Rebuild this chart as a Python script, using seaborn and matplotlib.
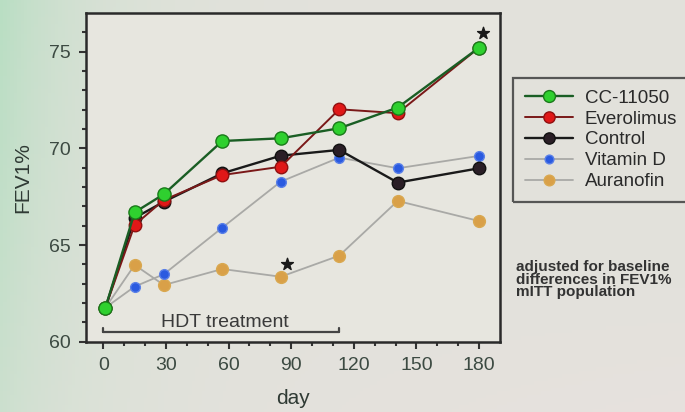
import numpy as np
import pandas as pd
import matplotlib
matplotlib.use("Agg")
import matplotlib.pyplot as plt
import seaborn as sns
from matplotlib.lines import Line2D

sns.set_theme(style="ticks")
plt.rcParams['font.family'] = ['Liberation Sans', 'DejaVu Sans']

days = [1, 15, 29, 57, 85, 113, 141, 180]
series_names = ["CC-11050", "Everolimus", "Control", "Vitamin D", "Auranofin"]
cc11050 = [61.76, 66.69, 67.63, 70.38, 70.52, 71.04, 72.11, 75.21]
everolimus = [61.76, 66.04, 67.33, 68.62, 69.05, 72.02, 71.82, 75.21]
control = [61.76, 66.40, 67.24, 68.71, 69.62, 69.92, 68.23, 68.97]
vitamin_d = [61.76, 62.85, 63.49, 65.90, 68.28, 69.52, 68.97, 69.61]
auranofin = [61.76, 63.97, 62.93, 63.76, 63.36, 64.45, 67.28, 66.24]
star_x = [182, 88]
star_y = [75.98, 64.0]
hdt_start, hdt_end = 0, 113

values = {"CC-11050": cc11050, "Everolimus": everolimus, "Control": control,
          "Vitamin D": vitamin_d, "Auranofin": auranofin}
df = pd.DataFrame([{"day": d, "fev": v, "group": g}
                   for g in series_names for d, v in zip(days, values[g])])

styles = {
    "CC-11050": dict(color="#1a5e24", mfc="#2fd02f", mec="#1a7a1a", ms=9.5, lw=1.7),
    "Everolimus": dict(color="#7a1818", mfc="#e01818", mec="#901010", ms=9, lw=1.4),
    "Control": dict(color="#1a1a1a", mfc="#2a1e26", mec="#111111", ms=9, lw=1.7),
    "Vitamin D": dict(color="#a9a9a6", mfc="#2a5ae0", mec="#5a80e8", ms=7, lw=1.3),
    "Auranofin": dict(color="#a9a9a6", mfc="#d9a048", mec="#d9a850", ms=8.5, lw=1.3),
}

W, H = 685, 412
fig = plt.figure(figsize=(W / 100, H / 100), dpi=100)

# background gradient (photo of slide)
bg = fig.add_axes([0, 0, 1, 1], zorder=-10)
xx, yy = np.meshgrid(np.linspace(0, 1, 200), np.linspace(0, 1, 120))
base = np.array([227, 226, 220]) / 255.0
img = np.ones((120, 200, 3)) * base
g = np.exp(-xx / 0.12) * (0.55 + 0.45 * (1 - yy))
tint = np.array([185, 222, 195]) / 255.0
img = img * (1 - g[..., None]) + tint * g[..., None]
pink = np.clip(yy - 0.7, 0, 1) / 0.3 * np.clip((xx - 0.2) / 0.8, 0, 1)
img = img * (1 - 0.4 * pink[..., None]) + np.array([236, 226, 224]) / 255.0 * 0.4 * pink[..., None]
bg.imshow(img, aspect="auto", extent=[0, 1, 0, 1], origin="upper")
bg.axis("off")

ax = fig.add_axes([86 / W, 1 - 341.7 / H, (500 - 86) / W, (341.7 - 13) / H])
ax.set_facecolor("#e7e6df")

for gname in ["Auranofin", "Vitamin D", "Control", "Everolimus", "CC-11050"]:
    s = styles[gname]
    sns.lineplot(data=df[df.group == gname], x="day", y="fev", ax=ax,
                 color=s["color"], marker="o", markersize=s["ms"],
                 markerfacecolor=s["mfc"], markeredgecolor=s["mec"],
                 markeredgewidth=1.0, linewidth=s["lw"], zorder=3)

ax.scatter(star_x, star_y, marker="*", s=80, color="#1a1a1a", zorder=5)

# HDT treatment bracket
yb = 60.5
ax.plot([hdt_start, hdt_end], [yb, yb], color="#444444", lw=1.6, zorder=2)
ax.plot([hdt_start, hdt_start], [yb, yb + 0.2], color="#444444", lw=1.6)
ax.plot([hdt_end, hdt_end], [yb, yb + 0.2], color="#444444", lw=1.6)
ax.text(58, 61.0, "HDT treatment", ha="center", va="center", fontsize=14, color="#3a3a3a")

ax.set_xlim(-8.3, 190)
ax.set_ylim(60, 77)
ax.set_xticks([0, 30, 60, 90, 120, 150, 180])
ax.set_xticks(np.arange(0, 181, 10), minor=True)
ax.set_yticks([60, 65, 70, 75])
ax.set_yticks(np.arange(60, 77, 1), minor=True)
ax.tick_params(axis="both", which="major", labelsize=14, labelcolor="#3c4a42",
               length=5, width=1.5, color="#333333", pad=6)
ax.tick_params(axis="both", which="minor", length=3, width=1.5, color="#333333")
for sp in ax.spines.values():
    sp.set_color("#2a2a2a")
    sp.set_linewidth(1.8)
ax.set_xlabel("day", fontsize=15, color="#2f3a34", labelpad=11)
ax.set_ylabel("FEV1%", fontsize=15, color="#2f3a34", labelpad=12)

handles = []
for gname in series_names:
    s = styles[gname]
    handles.append(Line2D([0], [0], color=s["color"], marker="o", markersize=s["ms"] * 0.9,
                          markerfacecolor=s["mfc"], markeredgecolor=s["mec"], lw=s["lw"]))
leg = fig.legend(handles, series_names, loc="upper left",
                 bbox_to_anchor=(513 / W, 1 - 203 / H, 200 / W, 125 / H), mode="expand",
                 fontsize=13.5, frameon=True, fancybox=False, labelspacing=0.2,
                 handlelength=2.6, handletextpad=0.6, borderpad=0.62,
                 borderaxespad=0)
leg.get_frame().set_edgecolor("#333333")
leg.get_frame().set_linewidth(1.6)
leg.get_frame().set_facecolor("none")
for t in leg.get_texts():
    t.set_color("#2a2a2a")

fig.text(516 / W, 1 - 260 / H, "adjusted for baseline\ndifferences in FEV1%\nmITT population",
         fontsize=11, fontweight="bold", color="#333333", va="top", ha="left", linespacing=0.88)

fig.savefig("out.png", dpi=100)
